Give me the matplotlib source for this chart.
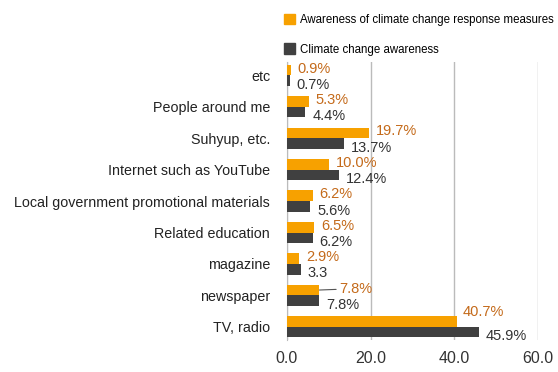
import numpy as np
import matplotlib as mpl
mpl.use('Agg')
import matplotlib.pyplot as plt
from matplotlib.patches import Patch

categories = ["etc", "People around me", "Suhyup, etc.", "Internet such as YouTube",
              "Local government promotional materials", "Related education",
              "magazine", "newspaper", "TV, radio"]
response_vals = [0.9, 5.3, 19.7, 10.0, 6.2, 6.5, 2.9, 7.8, 40.7]
awareness_vals = [0.7, 4.4, 13.7, 12.4, 5.6, 6.2, 3.3, 7.8, 45.9]
response_labels = ["0.9%", "5.3%", "19.7%", "10.0%", "6.2%", "6.5%", "2.9%", "7.8%", "40.7%"]
awareness_labels = ["0.7%", "4.4%", "13.7%", "12.4%", "5.6%", "6.2%", "3.3", "7.8%", "45.9%"]
series_names = ["Awareness of climate change response measures", "Climate change awareness"]

plt.rcParams['font.family'] = ['Liberation Sans', 'DejaVu Sans']

orange = '#F7A100'
dark = '#404040'
orange_txt = '#C46A1A'

fig = plt.figure(figsize=(5.58, 3.72), dpi=100)
ax = fig.add_axes([0.514, 0.086, 0.45, 0.747])

y = np.arange(len(categories))
h = 0.34
ax.barh(y - h / 2, response_vals, height=h, color=orange, zorder=3)
ax.barh(y + h / 2, awareness_vals, height=h, color=dark, zorder=3)

for i in range(len(categories)):
    if categories[i] == "newspaper":
        ax.annotate(response_labels[i], xy=(response_vals[i], y[i] - h / 2),
                    xytext=(14, 1), textcoords='offset points', color=orange_txt,
                    fontsize=10.5, va='center', ha='left',
                    arrowprops=dict(arrowstyle='-', color='#555555', lw=0.8,
                                    shrinkA=0, shrinkB=0))
    elif categories[i] == "TV, radio":
        ax.annotate(response_labels[i], xy=(response_vals[i], y[i] - h / 2),
                    xytext=(4, 7), textcoords='offset points', color=orange_txt,
                    fontsize=10.5, va='center', ha='left')
    else:
        ax.annotate(response_labels[i], xy=(response_vals[i], y[i] - h / 2),
                    xytext=(5, 1), textcoords='offset points', color=orange_txt,
                    fontsize=10.5, va='center', ha='left')
    ax.annotate(awareness_labels[i], xy=(awareness_vals[i], y[i] + h / 2),
                xytext=(5, -3), textcoords='offset points', color='#333333',
                fontsize=10.5, va='center', ha='left')

ax.set_xlim(0, 60)
ax.set_ylim(8.42, -0.42)
ax.set_xticks([0, 20, 40, 60])
ax.set_xticklabels(["0.0", "20.0", "40.0", "60.0"], fontsize=11.5, color='#333333')
ax.set_yticks(y)
ax.set_yticklabels(categories, fontsize=10.3, color='#222222')
ax.tick_params(axis='both', length=0)
ax.tick_params(axis='y', pad=12)
ax.tick_params(axis='x', pad=8)
ax.xaxis.grid(True, color='#BBBBBB', lw=1, zorder=0)
for s in ['top', 'right', 'bottom']:
    ax.spines[s].set_visible(False)
ax.spines['left'].set_color('#BBBBBB')

handles = [Patch(color=orange), Patch(color=dark)]
fig.legend(handles, series_names, loc='upper left', bbox_to_anchor=(0.49, 0.99),
           frameon=False, prop={'size': 8.3},
           handlelength=1.0, handleheight=1.0, handletextpad=0.4, labelspacing=1.5)

fig.savefig('out.png', dpi=100)
